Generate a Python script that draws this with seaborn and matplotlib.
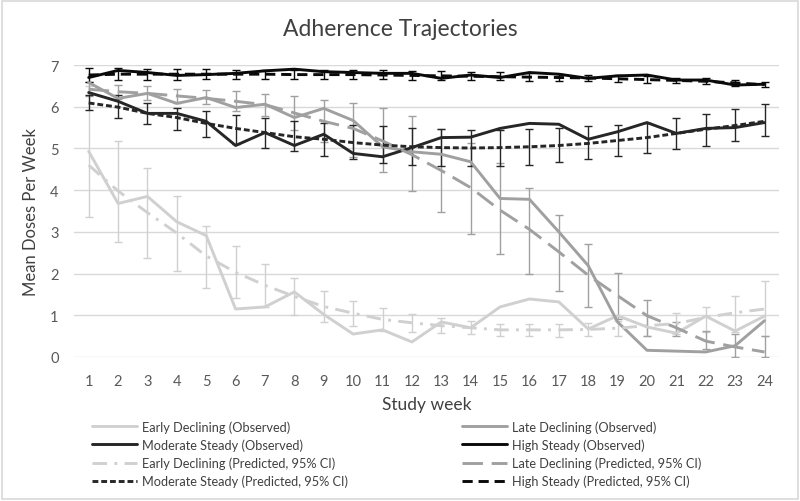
import matplotlib
matplotlib.use("Agg")
import matplotlib.pyplot as plt
import seaborn as sns
import numpy as np
import pandas as pd
from matplotlib.patches import Rectangle

weeks = list(range(1, 25))

early_obs = [4.93, 3.68, 3.85, 3.24, 2.91, 1.15, 1.20, 1.56, 1.02, 0.55, 0.65, 0.36,
             0.84, 0.70, 1.20, 1.39, 1.32, 0.67, 0.99, 0.72, 0.57, 0.98, 0.62, 0.98]
late_obs = [6.58, 6.20, 6.32, 6.08, 6.22, 5.98, 6.06, 5.74, 5.96, 5.67, 5.04, 4.92,
            4.86, 4.68, 3.80, 3.78, 3.00, 2.19, 0.84, 0.16, 0.14, 0.12, 0.27, 0.87]
mod_obs = [6.34, 6.13, 5.84, 5.84, 5.65, 5.07, 5.38, 5.07, 5.34, 4.88, 4.80, 5.02,
           5.26, 5.27, 5.48, 5.60, 5.58, 5.22, 5.40, 5.62, 5.36, 5.48, 5.50, 5.62]
high_obs = [6.70, 6.87, 6.82, 6.75, 6.77, 6.80, 6.86, 6.90, 6.84, 6.82, 6.80, 6.80,
            6.68, 6.76, 6.70, 6.82, 6.78, 6.68, 6.74, 6.76, 6.64, 6.64, 6.52, 6.54]

early_pred = [4.60, 3.98, 3.46, 2.97, 2.42, 2.03, 1.72, 1.45, 1.21, 1.05, 0.90, 0.82,
              0.75, 0.70, 0.65, 0.65, 0.65, 0.66, 0.69, 0.75, 0.80, 0.95, 1.06, 1.15]
early_lo = [3.36, 2.76, 2.38, 2.06, 1.66, 1.41, 1.20, 1.00, 0.85, 0.75, 0.63, 0.60,
            0.57, 0.55, 0.50, 0.50, 0.48, 0.50, 0.50, 0.50, 0.55, 0.60, 0.60, 0.50]
early_hi = [6.50, 5.19, 4.54, 3.87, 3.15, 2.65, 2.24, 1.90, 1.57, 1.35, 1.17, 1.03,
            0.93, 0.87, 0.80, 0.80, 0.80, 0.82, 0.87, 1.00, 1.05, 1.20, 1.47, 1.83]

late_pred = [6.42, 6.36, 6.32, 6.26, 6.20, 6.13, 6.05, 5.85, 5.65, 5.48, 5.18, 4.85,
             4.47, 4.06, 3.52, 3.06, 2.52, 1.96, 1.47, 0.99, 0.70, 0.38, 0.24, 0.12]
late_lo = [6.25, 6.18, 6.15, 6.10, 6.06, 5.90, 5.78, 5.45, 5.15, 4.80, 4.44, 3.99,
           3.48, 2.96, 2.46, 2.00, 1.57, 1.20, 0.92, 0.51, 0.50, 0.19, 0.00, 0.00]
late_hi = [6.60, 6.52, 6.50, 6.42, 6.40, 6.37, 6.30, 6.25, 6.15, 6.08, 5.96, 5.77,
           5.46, 5.12, 4.64, 4.06, 3.41, 2.72, 2.02, 1.37, 0.85, 0.63, 0.55, 0.51]

mod_pred = [6.09, 5.99, 5.84, 5.74, 5.60, 5.48, 5.38, 5.28, 5.22, 5.14, 5.08, 5.04,
            5.02, 5.01, 5.02, 5.04, 5.07, 5.12, 5.19, 5.26, 5.36, 5.46, 5.55, 5.65]
mod_lo = [5.91, 5.74, 5.58, 5.43, 5.28, 5.10, 5.02, 4.93, 4.83, 4.74, 4.64, 4.60,
          4.57, 4.57, 4.57, 4.60, 4.68, 4.74, 4.82, 4.90, 4.98, 5.07, 5.19, 5.29]
mod_hi = [6.28, 6.27, 6.10, 5.98, 5.89, 5.80, 5.74, 5.65, 5.60, 5.55, 5.53, 5.48,
          5.46, 5.45, 5.45, 5.46, 5.48, 5.53, 5.55, 5.62, 5.72, 5.82, 5.94, 6.06]

high_pred = [6.76, 6.78, 6.78, 6.78, 6.78, 6.78, 6.78, 6.77, 6.77, 6.77, 6.76, 6.75,
             6.74, 6.73, 6.72, 6.71, 6.70, 6.69, 6.67, 6.65, 6.63, 6.61, 6.57, 6.53]
high_lo = [6.60, 6.64, 6.65, 6.65, 6.66, 6.67, 6.67, 6.66, 6.66, 6.66, 6.66, 6.65,
           6.64, 6.64, 6.63, 6.62, 6.62, 6.61, 6.59, 6.58, 6.56, 6.54, 6.50, 6.47]
high_hi = [6.93, 6.92, 6.91, 6.91, 6.90, 6.89, 6.89, 6.88, 6.88, 6.88, 6.87, 6.86,
           6.85, 6.84, 6.83, 6.81, 6.79, 6.77, 6.75, 6.73, 6.70, 6.68, 6.64, 6.59]

labels = {
    "eo": "Early Declining (Observed)", "lo": "Late Declining (Observed)",
    "mo": "Moderate Steady (Observed)", "ho": "High Steady (Observed)",
    "ep": "Early Declining (Predicted, 95% CI)", "lp": "Late Declining (Predicted, 95% CI)",
    "mp": "Moderate Steady (Predicted, 95% CI)", "hp": "High Steady (Predicted, 95% CI)",
}

c_early, c_late, c_mod, c_high = "#d0d0d0", "#a0a0a0", "#262626", "#0a0a0a"

sns.set_theme(style="white")
plt.rcParams["font.family"] = ["Lato", "DejaVu Sans"]

fig = plt.figure(figsize=(8.0, 5.02), dpi=100)
ax = fig.add_axes([0.0925, 0.2869, 0.974 - 0.0925, 0.8685 - 0.2869])

handles = {}
lw = 2.1

def draw(key, y, color, ls, err=None, lwid=lw):
    sns.lineplot(x=weeks, y=y, ax=ax, color=color, linewidth=lwid, linestyle=ls,
                 label=None, legend=False, zorder=3)
    handles[key] = ax.lines[-1]
    if err is not None:
        lo, hi = err
        yerr = [np.array(y) - np.array(lo), np.array(hi) - np.array(y)]
        ax.errorbar(weeks, y, yerr=yerr, fmt="none", ecolor=color, elinewidth=1.0,
                    capsize=3, capthick=1.0, zorder=2)

draw("eo", early_obs, c_early, "-")
draw("lo", late_obs, c_late, "-")
draw("mo", mod_obs, c_mod, "-")
draw("ho", high_obs, c_high, "-")
draw("ep", early_pred, c_early, (0, (5, 2.5, 1, 2.5)), (early_lo, early_hi))
draw("lp", late_pred, c_late, (0, (7, 3)), (late_lo, late_hi))
draw("mp", mod_pred, c_mod, (0, (2, 1)), (mod_lo, mod_hi))
draw("hp", high_pred, c_high, (0, (3.5, 2)), (high_lo, high_hi))

ax.set_xlim(0.5, 24.5)
ax.set_ylim(0, 7)
ax.set_xticks(weeks)
ax.set_xticklabels([str(w) for w in weeks])
ax.set_yticks(range(0, 8))
ax.grid(axis="y", color="#d9d9d9", linewidth=1.0)
ax.grid(axis="x", visible=False)
for s in ax.spines.values():
    s.set_visible(False)
ax.tick_params(axis="both", length=0, labelsize=10.5, colors="#595959")
ax.tick_params(axis="y", pad=11)
ax.tick_params(axis="x", pad=12)
ax.set_xlabel("Study week", fontsize=12.5, color="#404040", labelpad=6)
ax.set_ylabel("Mean Doses Per Week", fontsize=12, color="#404040", labelpad=8)
fig.text(0.5, 1 - 30 / 502, "Adherence Trajectories", ha="center", va="center",
         fontsize=16.5, color="#404040")

leg_kw = dict(loc="upper left", frameon=False, fontsize=9.2, handlelength=3.5,
              handletextpad=0.45, labelspacing=0.45, borderpad=0, borderaxespad=0,
              labelcolor="#404040")
keys1 = ["eo", "mo", "ep", "mp"]
keys2 = ["lo", "ho", "lp", "hp"]
top = 1 - 421 / 502
l1 = fig.legend([handles[k] for k in keys1], [labels[k] for k in keys1],
                bbox_to_anchor=(92 / 800, top), **leg_kw)
l2 = fig.legend([handles[k] for k in keys2], [labels[k] for k in keys2],
                bbox_to_anchor=(462 / 800, top), **leg_kw)

fig.patches.append(Rectangle((0.002, 0.003), 0.995, 0.994, transform=fig.transFigure,
                             fill=False, edgecolor="#d9d9d9", linewidth=1.2))

fig.savefig("out.png", dpi=100)
